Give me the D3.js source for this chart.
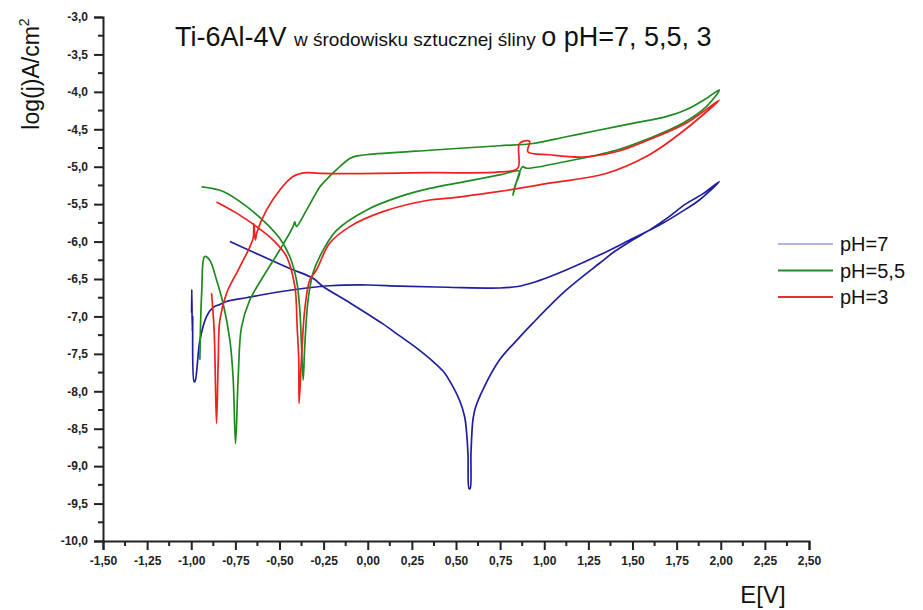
<!DOCTYPE html>
<html>
<head>
<meta charset="utf-8">
<script src="https://cdn.jsdelivr.net/npm/d3@7"></script>
<style>
  body { margin: 0; background: #fff; }
  svg text { font-family: "Liberation Sans", Arial, sans-serif; }
</style>
</head>
<body>
<div class="container"></div>
<script>
// data: [E (V), log(j)]
const ph7 = [
  [-0.998, -6.95], [-0.997, -6.64], [-0.994, -7.20], [-0.992, -7.00], [-0.984, -7.87],
  [-0.979, -7.87], [-0.951, -7.32], [-0.913, -7.00], [-0.876, -6.88], [-0.838, -6.84],
  [-0.800, -6.80], [-0.687, -6.75], [-0.498, -6.67], [-0.347, -6.62], [-0.215, -6.59],
  [0.000, -6.58], [0.181, -6.595], [0.450, -6.61], [0.747, -6.62], [0.850, -6.60],
  [0.934, -6.55], [1.030, -6.47], [1.124, -6.38], [1.313, -6.18], [1.501, -5.96],
  [1.653, -5.78], [1.800, -5.57], [1.879, -5.445], [1.992, -5.20],
  [1.900, -5.36], [1.800, -5.50], [1.700, -5.68], [1.600, -5.84], [1.500, -5.98],
  [1.400, -6.13], [1.313, -6.29], [1.124, -6.65], [0.935, -7.09], [0.840, -7.33],
  [0.747, -7.58], [0.652, -7.98], [0.610, -8.22], [0.596, -8.38], [0.585, -8.82],
  [0.580, -9.30], [0.574, -9.30], [0.568, -8.85], [0.560, -8.55], [0.549, -8.34],
  [0.520, -8.12], [0.464, -7.86], [0.430, -7.74], [0.369, -7.60], [0.270, -7.41],
  [0.181, -7.26], [0.086, -7.10], [-0.100, -6.82], [-0.253, -6.60], [-0.310, -6.49],
  [-0.442, -6.36], [-0.593, -6.20], [-0.781, -6.00]
];

const ph55 = [
  [-0.951, -7.58], [-0.941, -6.69], [-0.923, -6.20], [-0.895, -6.25], [-0.857, -6.51],
  [-0.819, -6.83], [-0.781, -7.32], [-0.763, -7.81], [-0.749, -8.70], [-0.734, -7.81],
  [-0.715, -7.14], [-0.668, -6.78], [-0.593, -6.47], [-0.498, -6.11], [-0.423, -5.80],
  [-0.413, -5.735], [-0.404, -5.80], [-0.347, -5.58], [-0.272, -5.27], [-0.253, -5.22],
  [-0.177, -5.04], [-0.102, -4.89], [-0.060, -4.855], [-0.008, -4.84], [0.351, -4.78],
  [0.747, -4.72], [0.935, -4.69], [1.124, -4.60], [1.313, -4.51], [1.501, -4.42],
  [1.690, -4.33], [1.803, -4.24], [1.917, -4.09], [1.992, -3.975],
  [1.917, -4.20], [1.784, -4.42], [1.596, -4.62], [1.407, -4.78], [1.124, -4.93],
  [0.898, -5.02], [0.877, -5.00], [0.822, -5.38], [0.835, -5.25], [0.860, -5.06],
  [0.747, -5.11], [0.549, -5.20], [0.351, -5.29], [0.181, -5.40], [-0.008, -5.58],
  [-0.177, -5.85], [-0.272, -6.20], [-0.310, -6.42], [-0.338, -6.78], [-0.357, -7.40],
  [-0.366, -7.85], [-0.376, -7.36], [-0.385, -6.91], [-0.404, -6.51], [-0.442, -6.20],
  [-0.498, -5.96], [-0.574, -5.76], [-0.687, -5.53], [-0.819, -5.33], [-0.941, -5.27]
];

const ph3 = [
  [-0.885, -6.69], [-0.870, -7.20], [-0.857, -8.43], [-0.847, -7.58], [-0.838, -7.05],
  [-0.800, -6.69], [-0.734, -6.38], [-0.668, -6.07], [-0.649, -5.95], [-0.645, -5.76],
  [-0.637, -5.98], [-0.627, -5.87], [-0.574, -5.58], [-0.498, -5.31], [-0.423, -5.13],
  [-0.347, -5.08], [-0.272, -5.09], [0.351, -5.08], [0.747, -5.07], [0.850, -5.02],
  [0.860, -4.69], [0.917, -4.66], [0.907, -4.80], [1.030, -4.84], [1.218, -4.87],
  [1.407, -4.80], [1.634, -4.60], [1.803, -4.42], [1.992, -4.11],
  [1.784, -4.53], [1.596, -4.84], [1.350, -5.09], [1.030, -5.22], [0.747, -5.33],
  [0.464, -5.42], [0.351, -5.445], [0.086, -5.60], [-0.102, -5.80], [-0.215, -6.02],
  [-0.291, -6.38], [-0.328, -6.51], [-0.357, -6.91], [-0.376, -7.58], [-0.389, -8.16],
  [-0.391, -7.58], [-0.400, -7.14], [-0.413, -6.60], [-0.460, -6.20], [-0.536, -5.98],
  [-0.630, -5.80], [-0.743, -5.62], [-0.857, -5.47]
];

const seriesNames = ["pH=7", "pH=5,5", "pH=3"];
const seriesData = [ph7, ph55, ph3];
const lineColors = ["#1f1f9e", "#1f8a1f", "#ee2020"];
const legendColors = ["#b4b4e2", "#2a8a2a", "#e53030"];

const xTicks = [-1.5, -1.25, -1, -0.75, -0.5, -0.25, 0, 0.25, 0.5, 0.75, 1, 1.25, 1.5, 1.75, 2, 2.25, 2.5];
const yTicks = [-10, -9.5, -9, -8.5, -8, -7.5, -7, -6.5, -6, -5.5, -5, -4.5, -4, -3.5, -3];

const width = 923, height = 610;
const margin = {top: 17, right: 114, bottom: 69, left: 103};

const svg = d3.select(".container")
  .append("svg")
  .attr("width", width)
  .attr("height", height);

const x = d3.scaleLinear()
  .domain([-1.5, 2.5])
  .range([margin.left, width - margin.right]);

const y = d3.scaleLinear()
  .domain([-10, -3])
  .range([height - margin.bottom, margin.top]);

// minor ticks halfway between majors
const xMinor = d3.range(xTicks.length - 1).map(i => (xTicks[i] + xTicks[i + 1]) / 2);
const yMinor = d3.range(yTicks.length - 1).map(i => (yTicks[i] + yTicks[i + 1]) / 2);

// curves
const line = d3.line()
  .x(d => x(d[0]))
  .y(d => y(d[1]))
  .curve(d3.curveCatmullRom.alpha(0.5));

svg.selectAll("path.curve")
  .data(seriesData)
  .enter()
  .append("path")
  .attr("class", "curve")
  .attr("d", line)
  .attr("fill", "none")
  .attr("stroke", (d, i) => lineColors[i])
  .attr("stroke-width", 1.7)
  .attr("stroke-linejoin", "round");

// x axis
const xAxis = svg.append("g")
  .attr("transform", `translate(0, ${height - margin.bottom})`)
  .call(d3.axisBottom(x).tickValues(xTicks).tickSize(9).tickPadding(6)
    .tickFormat(v => v.toFixed(2).replace(".", ",")));
xAxis.append("g").selectAll("line")
  .data(xMinor).enter().append("line")
  .attr("x1", d => x(d)).attr("x2", d => x(d))
  .attr("y1", 0).attr("y2", 5)
  .attr("stroke", "#222").attr("stroke-width", 2);

// y axis
const yAxis = svg.append("g")
  .attr("transform", `translate(${margin.left}, 0)`)
  .call(d3.axisLeft(y).tickValues(yTicks).tickSize(9).tickPadding(6)
    .tickFormat(v => v.toFixed(1).replace(".", ",")));
yAxis.append("g").selectAll("line")
  .data(yMinor).enter().append("line")
  .attr("x1", 0).attr("x2", -5)
  .attr("y1", d => y(d)).attr("y2", d => y(d))
  .attr("stroke", "#222").attr("stroke-width", 2);

svg.selectAll(".domain").attr("stroke", "#222").attr("stroke-width", 2);
svg.selectAll(".tick line").attr("stroke", "#222").attr("stroke-width", 2);
svg.selectAll(".tick text")
  .attr("font-size", 12)
  .attr("font-weight", "bold")
  .attr("fill", "#222")
  .style("font-family", "'Liberation Sans', Arial, sans-serif");

// axis titles
svg.append("text")
  .attr("transform", "translate(39, 74) rotate(-90)")
  .attr("text-anchor", "middle")
  .attr("font-size", 23)
  .attr("fill", "#111")
  .text("log(j)A/cm")
  .append("tspan")
  .attr("font-size", 14)
  .attr("dy", -10)
  .text("2");

svg.append("text")
  .attr("x", 763)
  .attr("y", 603)
  .attr("text-anchor", "middle")
  .attr("font-size", 24)
  .attr("fill", "#111")
  .text("E[V]");

// title
const title = svg.append("text")
  .attr("x", 175)
  .attr("y", 46)
  .attr("fill", "#111");
title.append("tspan").attr("font-size", 27).text("Ti-6Al-4V ");
title.append("tspan").attr("font-size", 19).text("w środowisku sztucznej śliny ");
title.append("tspan").attr("font-size", 27).text("o pH=7, 5,5, 3");

// legend
const legend = svg.append("g");
seriesNames.forEach((name, i) => {
  const ly = 244 + i * 26.5;
  legend.append("line")
    .attr("x1", 778).attr("x2", 833)
    .attr("y1", ly).attr("y2", ly)
    .attr("stroke", legendColors[i])
    .attr("stroke-width", 2);
  legend.append("text")
    .attr("x", 840)
    .attr("y", ly + 7)
    .attr("font-size", 20)
    .attr("fill", "#111")
    .text(name);
});
</script>
</body>
</html>
